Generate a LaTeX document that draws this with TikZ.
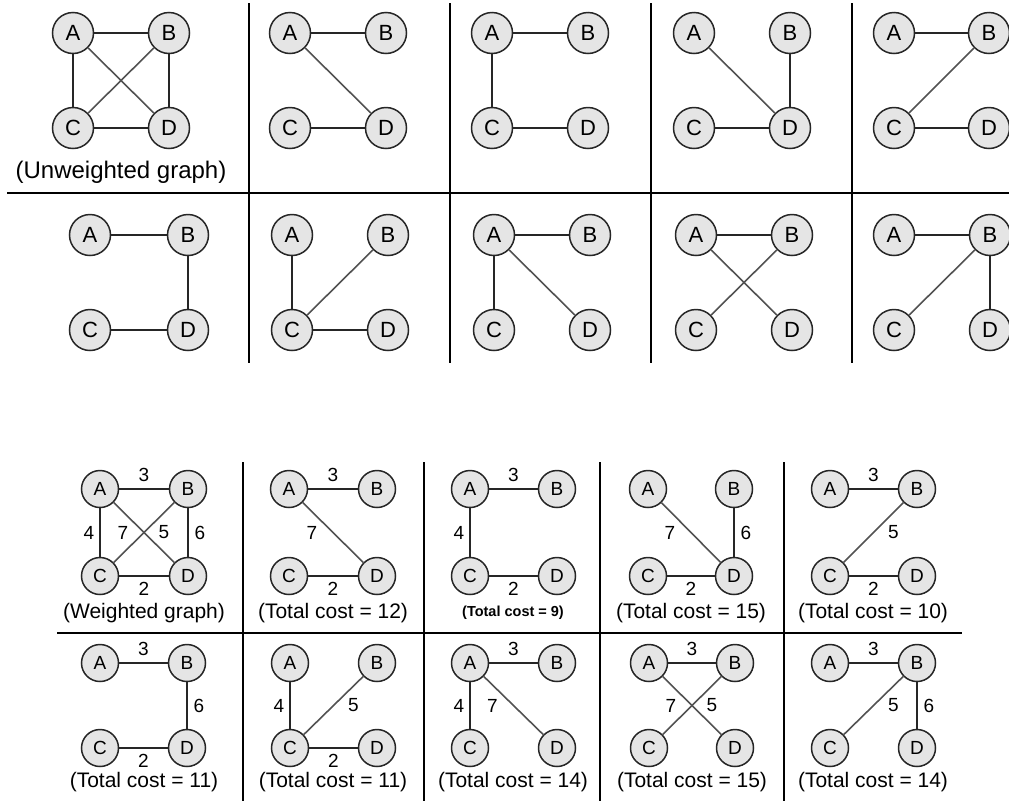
\documentclass[tikz,border=0pt]{standalone}
\usepackage{fontspec}
\setmainfont{Liberation Sans}

% four vertices A,B (top) and C,D (bottom): style, prefix, xA, xB, ytop, ybottom
\newcommand\fourvtx[6]{%
  \node[#1] (#2A) at (#3,#5) {A};
  \node[#1] (#2B) at (#4,#5) {B};
  \node[#1] (#2C) at (#3,#6) {C};
  \node[#1] (#2D) at (#4,#6) {D};}

\begin{document}
\begin{tikzpicture}[x=1pt,y=-1pt,
  vtx/.style={circle, draw=black!85, fill=black!10, line width=1.5pt,
    minimum size=41pt, inner sep=0pt, font=\fontsize{22}{22}\selectfont},
  wvtx/.style={vtx, minimum size=37pt, font=\fontsize{19}{19}\selectfont},
  ln/.style={line width=1.8pt, draw=black!85},
  dg/.style={line width=1.6pt, draw=black!68},
  wt/.style={inner sep=0pt, font=\fontsize{19}{19}\selectfont},
  wab/.style={wt, yshift=14pt},
  wcd/.style={wt, yshift=-13pt},
  wac/.style={wt, xshift=-11pt},
  wbd/.style={wt, xshift=12pt},
  wad/.style={wt, xshift=-21pt},
  wbc/.style={wt, xshift=20pt},
  ucap/.style={inner sep=0pt, font=\fontsize{24}{24}\selectfont},
  wcap/.style={inner sep=0pt, font=\fontsize{21}{21}\selectfont},
  smallcap/.style={inner sep=0pt, font=\fontsize{14.5}{14.5}\selectfont\bfseries},
  divider/.style={line width=1.8pt, draw=black}]
\useasboundingbox (0,0) rectangle (1009,801);

% ---------------- unweighted graph and its spanning trees ----------------
\coordinate (uh1) at (7,193);   \coordinate (uh2) at (1009,193);
\coordinate (uv1t) at (249,3);  \coordinate (uv1b) at (249,363);
\coordinate (uv2t) at (450,3);  \coordinate (uv2b) at (450,363);
\coordinate (uv3t) at (651,3);  \coordinate (uv3b) at (651,363);
\coordinate (uv4t) at (852,3);  \coordinate (uv4b) at (852,363);
\draw[divider] (uh1) -- (uh2);
\draw[divider] (uv1t) -- (uv1b) (uv2t) -- (uv2b) (uv3t) -- (uv3b) (uv4t) -- (uv4b);

\fourvtx{vtx}{t1}{73}{169}{33}{128}
\fourvtx{vtx}{t2}{290}{386}{33}{128}
\fourvtx{vtx}{t3}{492}{588}{33}{128}
\fourvtx{vtx}{t4}{694}{790}{33}{128}
\fourvtx{vtx}{t5}{894}{989}{33}{128}
\fourvtx{vtx}{b1}{90}{188}{235}{330}
\fourvtx{vtx}{b2}{292}{388}{235}{330}
\fourvtx{vtx}{b3}{494}{590}{235}{330}
\fourvtx{vtx}{b4}{696}{792}{235}{330}
\fourvtx{vtx}{b5}{894}{990}{235}{330}

\node[ucap] (ucaption) at (121,172) {(Unweighted graph)};

\draw[ln] (t1A) -- (t1B) (t1A) -- (t1C) (t1B) -- (t1D) (t1C) -- (t1D);
\draw[dg] (t1A) -- (t1D) (t1B) -- (t1C);
\draw[ln] (t2A) -- (t2B) (t2C) -- (t2D);
\draw[dg] (t2A) -- (t2D);
\draw[ln] (t3A) -- (t3B) (t3A) -- (t3C) (t3C) -- (t3D);
\draw[ln] (t4B) -- (t4D) (t4C) -- (t4D);
\draw[dg] (t4A) -- (t4D);
\draw[ln] (t5A) -- (t5B) (t5C) -- (t5D);
\draw[dg] (t5B) -- (t5C);

\draw[ln] (b1A) -- (b1B) (b1B) -- (b1D) (b1C) -- (b1D);
\draw[ln] (b2A) -- (b2C) (b2C) -- (b2D);
\draw[dg] (b2B) -- (b2C);
\draw[ln] (b3A) -- (b3B) (b3A) -- (b3C);
\draw[dg] (b3A) -- (b3D);
\draw[ln] (b4A) -- (b4B);
\draw[dg] (b4A) -- (b4D) (b4B) -- (b4C);
\draw[ln] (b5A) -- (b5B) (b5B) -- (b5D);
\draw[dg] (b5B) -- (b5C);

% ---------------- weighted graph and its spanning trees ----------------
\coordinate (wh1) at (57,633);  \coordinate (wh2) at (962,633);
\coordinate (wv1t) at (243,462); \coordinate (wv1b) at (243,801);
\coordinate (wv2t) at (424,462); \coordinate (wv2b) at (424,801);
\coordinate (wv3t) at (600,462); \coordinate (wv3b) at (600,801);
\coordinate (wv4t) at (784,462); \coordinate (wv4b) at (784,801);
\draw[divider] (wh1) -- (wh2);
\draw[divider] (wv1t) -- (wv1b) (wv2t) -- (wv2b) (wv3t) -- (wv3b) (wv4t) -- (wv4b);

\fourvtx{wvtx}{w1}{100}{188}{489}{576}
\fourvtx{wvtx}{w2}{289}{377}{489}{576}
\fourvtx{wvtx}{w3}{470}{557}{489}{576}
\fourvtx{wvtx}{w4}{648}{734}{489}{576}
\fourvtx{wvtx}{w5}{830}{917}{489}{576}
\fourvtx{wvtx}{x1}{100}{187}{663}{748}
\fourvtx{wvtx}{x2}{290}{377}{663}{748}
\fourvtx{wvtx}{x3}{470}{557}{663}{748}
\fourvtx{wvtx}{x4}{649}{735}{663}{748}
\fourvtx{wvtx}{x5}{830}{917}{663}{748}

% row 1
\draw[ln] (w1A) -- node[wab]{3} (w1B);
\draw[ln] (w1A) -- node[wac]{4} (w1C);
\draw[ln] (w1B) -- node[wbd]{6} (w1D);
\draw[ln] (w1C) -- node[wcd]{2} (w1D);
\draw[dg] (w1A) -- node[wad]{7} (w1D);
\draw[dg] (w1B) -- node[wbc]{5} (w1C);
\node[wcap] (wcap1) at (144,613) {(Weighted graph)};

\draw[ln] (w2A) -- node[wab]{3} (w2B);
\draw[dg] (w2A) -- node[wad]{7} (w2D);
\draw[ln] (w2C) -- node[wcd]{2} (w2D);
\node[wcap] (wcap2) at (333,613) {(Total cost = 12)};

\draw[ln] (w3A) -- node[wab]{3} (w3B);
\draw[ln] (w3A) -- node[wac]{4} (w3C);
\draw[ln] (w3C) -- node[wcd]{2} (w3D);
\node[smallcap] (wcap3) at (513,613) {(Total cost = 9)};

\draw[dg] (w4A) -- node[wad]{7} (w4D);
\draw[ln] (w4B) -- node[wbd]{6} (w4D);
\draw[ln] (w4C) -- node[wcd]{2} (w4D);
\node[wcap] (wcap4) at (691,613) {(Total cost = 15)};

\draw[ln] (w5A) -- node[wab]{3} (w5B);
\draw[dg] (w5B) -- node[wbc]{5} (w5C);
\draw[ln] (w5C) -- node[wcd]{2} (w5D);
\node[wcap] (wcap5) at (873,613) {(Total cost = 10)};

% row 2
\draw[ln] (x1A) -- node[wab]{3} (x1B);
\draw[ln] (x1B) -- node[wbd]{6} (x1D);
\draw[ln] (x1C) -- node[wcd]{2} (x1D);
\node[wcap] (xcap1) at (144,782) {(Total cost = 11)};

\draw[ln] (x2A) -- node[wac]{4} (x2C);
\draw[dg] (x2B) -- node[wbc]{5} (x2C);
\draw[ln] (x2C) -- node[wcd]{2} (x2D);
\node[wcap] (xcap2) at (333,782) {(Total cost = 11)};

\draw[ln] (x3A) -- node[wab]{3} (x3B);
\draw[ln] (x3A) -- node[wac]{4} (x3C);
\draw[dg] (x3A) -- node[wad]{7} (x3D);
\node[wcap] (xcap3) at (513,782) {(Total cost = 14)};

\draw[ln] (x4A) -- node[wab]{3} (x4B);
\draw[dg] (x4A) -- node[wad]{7} (x4D);
\draw[dg] (x4B) -- node[wbc]{5} (x4C);
\node[wcap] (xcap4) at (692,782) {(Total cost = 15)};

\draw[ln] (x5A) -- node[wab]{3} (x5B);
\draw[dg] (x5B) -- node[wbc]{5} (x5C);
\draw[ln] (x5B) -- node[wbd]{6} (x5D);
\node[wcap] (xcap5) at (873,782) {(Total cost = 14)};
\end{tikzpicture}
\end{document}
